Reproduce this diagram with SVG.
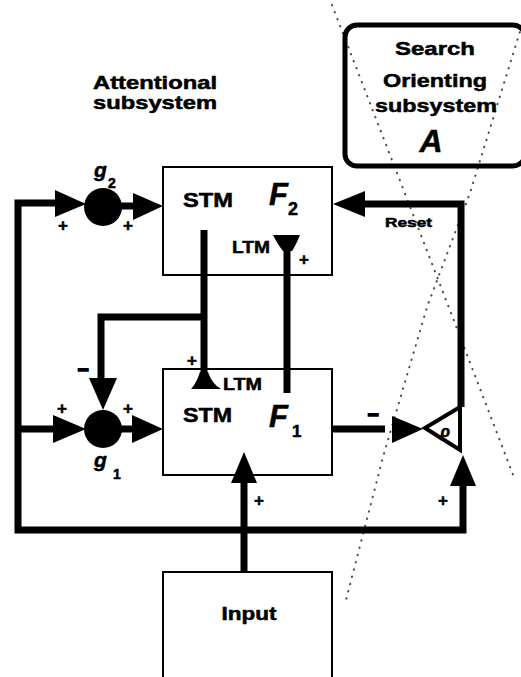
<svg xmlns="http://www.w3.org/2000/svg" width="521" height="677" viewBox="0 0 521 677">
<style>
.t{font-family:"Liberation Sans",Arial,Helvetica,sans-serif;font-weight:bold;fill:#000;stroke:#000;stroke-width:0.5}
.i{font-style:italic}
.box{fill:#fff;stroke:#000;stroke-width:2}
.ln{fill:none;stroke:#000;stroke-width:7}
.ah{fill:#000}
.dot{fill:none;stroke:#000;stroke-width:2;stroke-linecap:round;stroke-dasharray:0.5 7;opacity:0.7}
</style>
<rect width="521" height="677" fill="#fff"/>

<g id="attentional-label">
<text class="t" x="93" y="89" font-size="18" textLength="124" lengthAdjust="spacingAndGlyphs">Attentional</text>
<text class="t" x="93" y="109" font-size="18" textLength="124" lengthAdjust="spacingAndGlyphs">subsystem</text>
</g>

<g id="orienting-subsystem">
<rect x="345" y="25" width="180" height="141" rx="12" ry="12" fill="#fff" stroke="#000" stroke-width="5"/>
<text class="t" x="435" y="55" font-size="19" text-anchor="middle" textLength="80" lengthAdjust="spacingAndGlyphs">Search</text>
<text class="t" x="435" y="87" font-size="19" text-anchor="middle" textLength="104" lengthAdjust="spacingAndGlyphs">Orienting</text>
<text class="t" x="436" y="112" font-size="19" text-anchor="middle" textLength="122" lengthAdjust="spacingAndGlyphs">subsystem</text>
<text class="t i" x="431" y="152" font-size="32" text-anchor="middle">A</text>
</g>

<g id="F2">
<rect class="box" x="163" y="167" width="169" height="108"/>
<text class="t" x="183" y="207" font-size="20" textLength="50" lengthAdjust="spacingAndGlyphs">STM</text>
<text class="t i" x="269" y="205" font-size="31">F</text>
<text class="t" x="288" y="215" font-size="18">2</text>
<text class="t" x="232" y="253" font-size="17" textLength="38" lengthAdjust="spacingAndGlyphs">LTM</text>
</g>

<g id="F1">
<rect class="box" x="163" y="369" width="169" height="106"/>
<text class="t" x="183" y="422" font-size="20" textLength="49" lengthAdjust="spacingAndGlyphs">STM</text>
<text class="t i" x="269" y="427" font-size="31">F</text>
<text class="t" x="292" y="437" font-size="17">1</text>
<text class="t" x="223" y="390" font-size="16" textLength="39" lengthAdjust="spacingAndGlyphs">LTM</text>
</g>

<g id="g2">
<circle cx="103" cy="207" r="19" fill="#000"/>
<text class="t i" x="94" y="177" font-size="21">g</text>
<text class="t" x="108" y="188" font-size="14">2</text>
</g>

<g id="g1">
<circle cx="103" cy="429" r="19" fill="#000"/>
<text class="t i" x="94" y="467" font-size="21">g</text>
<text class="t" x="113" y="479" font-size="14">1</text>
</g>

<g id="input">
<rect class="box" x="163" y="572" width="169" height="120"/>
<text class="t" x="249" y="620" font-size="18" text-anchor="middle" textLength="55" lengthAdjust="spacingAndGlyphs">Input</text>
</g>

<g id="rho">
<polygon points="425,428 460,407 460,450" fill="#fff" stroke="#000" stroke-width="4" stroke-linejoin="miter"/>
<text class="t i" x="445" y="437" font-size="16" text-anchor="middle">ρ</text>
</g>

<g id="connectors">
<path class="ln" d="M 56 203 H 18 V 530 H 463 V 484"/>
<path class="ln" d="M 18 429 H 55"/>
<polygon class="ah" points="55,190 86,204 55,217"/>
<path class="ln" d="M 120 206 H 135"/>
<polygon class="ah" points="133,193 163,206 133,220"/>
<polygon class="ah" points="53,415 86,429 53,443"/>
<path class="ln" d="M 120 429 H 134"/>
<polygon class="ah" points="132,415 163,429 132,443"/>
<path class="ln" d="M 204 230 V 374"/>
<path class="ln" d="M 204 317 H 101 V 380"/>
<polygon class="ah" points="89,378 117,378 103,410"/>
<path class="ah" d="M 200 372 L 208 372 Q 212 384 221 389 L 191 389 Q 196 384 200 372 Z"/>
<path class="ln" d="M 287 247 V 393"/>
<path class="ah" d="M 273 235 L 300 235 Q 296 245 292 251 L 283 251 Q 278 245 273 235 Z"/>
<path class="ln" d="M 244 572 V 480"/>
<polygon class="ah" points="231,483 244,452 257,483"/>
<path class="ln" d="M 332 429 H 385"/>
<polygon class="ah" points="392,416 423,429 392,443"/>
<path class="ln" d="M 461 407 V 204 H 364"/>
<polygon class="ah" points="365,191 333,204 365,217"/>
<polygon class="ah" points="450,486 463,455 476,486"/>
<text class="t" x="385" y="227" font-size="13" textLength="47" lengthAdjust="spacingAndGlyphs">Reset</text>
<g class="t" font-size="17" text-anchor="middle">
<text x="63" y="231">+</text>
<text x="128" y="231">+</text>
<text x="62" y="414">+</text>
<text x="128" y="414">+</text>
<text x="192" y="366">+</text>
<text x="304" y="265">+</text>
<text x="259" y="506">+</text>
<text x="443" y="506">+</text>
</g>
<g class="t" font-size="19" text-anchor="middle" style="stroke-width:1.6">
<text x="83" y="376">−</text>
<text x="373" y="421">−</text>
</g>
</g>

<g id="scan-marks">
<path class="dot" d="M 332 5 L 397 173 L 446 300 L 515 480"/>
<path class="dot" d="M 522 25 L 470 193 L 427 307 L 383 457 L 346 600"/>
</g>
</svg>
